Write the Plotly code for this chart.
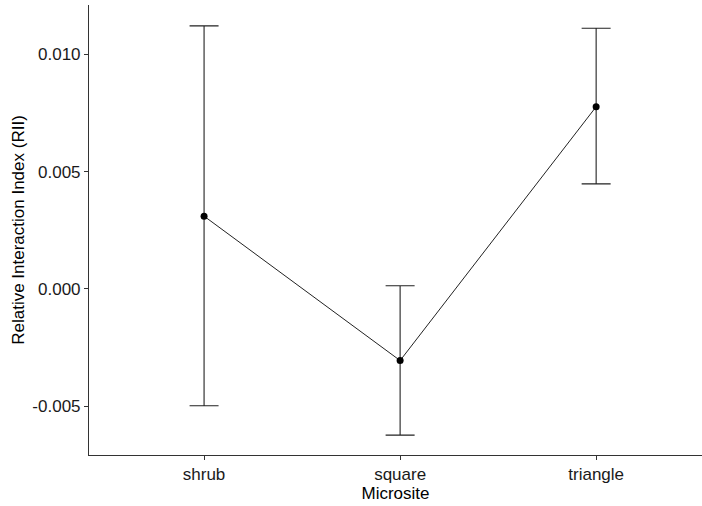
import plotly.graph_objects as go

# Mean RII per microsite with error bar limits
microsites = ["shrub", "square", "triangle"]
rii_mean = [0.00310, -0.00306, 0.00777]
rii_upper = [0.01122, 0.00013, 0.01112]
rii_lower = [-0.00499, -0.00624, 0.00448]

y_ticks = [-0.005, 0.000, 0.005, 0.010]
y_tick_text = ["-0.005", "0.000", "0.005", "0.010"]

x_pos = [1, 2, 3]
err_plus = [u - m for u, m in zip(rii_upper, rii_mean)]
err_minus = [m - l for m, l in zip(rii_mean, rii_lower)]

fig = go.Figure()

# connecting line
fig.add_trace(go.Scatter(
    x=x_pos, y=rii_mean, mode="lines",
    line=dict(color="#222222", width=1),
    hoverinfo="skip", showlegend=False,
))

# error bars with points
fig.add_trace(go.Scatter(
    x=x_pos, y=rii_mean, mode="markers",
    marker=dict(color="black", size=7),
    error_y=dict(type="data", symmetric=False, array=err_plus, arrayminus=err_minus,
                 color="#222222", thickness=1.1, width=14.5),
    showlegend=False,
))

font_family = "Liberation Sans, Arial, sans-serif"

fig.update_layout(
    width=702, height=506,
    margin=dict(l=89, r=0, t=5, b=51),
    paper_bgcolor="white", plot_bgcolor="white",
    font=dict(family=font_family, color="black"),
    xaxis=dict(
        range=[0.413, 3.54],
        tickvals=x_pos, ticktext=microsites,
        showgrid=False, zeroline=False,
        showline=True, linecolor="#333333", linewidth=1.1,
        ticks="outside", ticklen=4, tickcolor="#333333", tickwidth=1.1,
        tickfont=dict(size=17, color="#1a1a1a", family=font_family),
        title=dict(text="Microsite", font=dict(size=17, family=font_family), standoff=0),
    ),
    yaxis=dict(
        range=[-0.00709, 0.01211],
        tickvals=y_ticks, ticktext=y_tick_text,
        showgrid=False, zeroline=False,
        showline=True, linecolor="#333333", linewidth=1.1,
        ticks="outside", ticklen=4, tickcolor="#333333", tickwidth=1.1,
        tickfont=dict(size=17, color="#1a1a1a", family=font_family),
        title=dict(text="Relative Interaction Index (RII)", font=dict(size=17, family=font_family), standoff=3),
    ),
)

fig.write_html("out.html")
